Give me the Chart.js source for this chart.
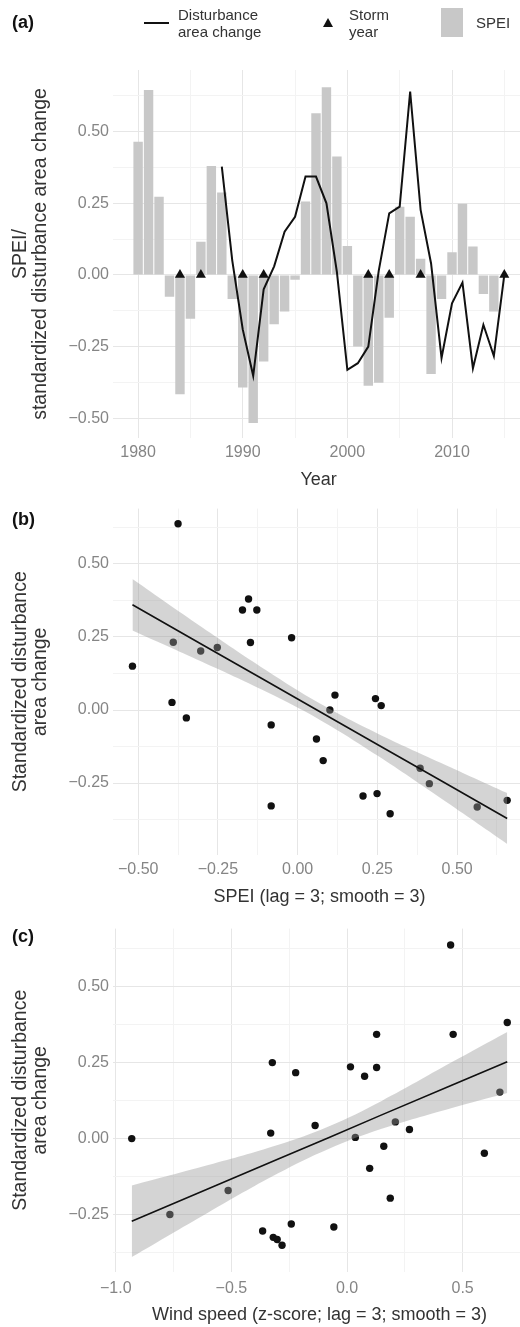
<!DOCTYPE html>
<html>
<head>
<meta charset="utf-8">
<script src="https://cdn.jsdelivr.net/npm/chart.js@4.4.0/dist/chart.umd.min.js"></script>
<style>
html, body { margin: 0; padding: 0; background: #fff; overflow: hidden; width: 520px; height: 1327px; }
.panel { position: absolute; left: 0; }
.lab { position: absolute; font: bold 18px "Liberation Sans", Arial, sans-serif; color: #111; }
.leg { position: absolute; font: 15px "Liberation Sans", Arial, sans-serif; color: #333; line-height: 17px; }
</style>
</head>
<body>
<canvas id="chartA" class="panel" width="530" height="495" style="top:0px"></canvas>
<canvas id="chartB" class="panel" width="530" height="420" style="top:495px"></canvas>
<canvas id="chartC" class="panel" width="530" height="412" style="top:915px"></canvas>

<div class="lab" style="left:12px;top:12px">(a)</div>
<div class="lab" style="left:12px;top:509px">(b)</div>
<div class="lab" style="left:12px;top:926px">(c)</div>

<div style="position:absolute;left:144px;top:22px;width:25px;height:2px;background:#111"></div>
<div class="leg" style="left:178px;top:6px">Disturbance<br>area change</div>
<div style="position:absolute;left:323px;top:18px;width:0;height:0;border-left:5px solid transparent;border-right:5px solid transparent;border-bottom:9px solid #111"></div>
<div class="leg" style="left:349px;top:6px">Storm<br>year</div>
<div style="position:absolute;left:441px;top:8px;width:22px;height:29px;background:#c8c8c8"></div>
<div class="leg" style="left:476px;top:14px">SPEI</div>

<script>
// panel (a) data
const speiYears = [1980, 1981, 1982, 1983, 1984, 1985, 1986, 1987, 1988, 1989,
    1990, 1991, 1992, 1993, 1994, 1995, 1996, 1997, 1998, 1999,
    2000, 2001, 2002, 2003, 2004, 2005, 2006, 2007, 2008, 2009,
    2010, 2011, 2012, 2013, 2014]
const spei = [0.465, 0.645, 0.273, -0.076, -0.416, -0.153, 0.116, 0.38, 0.288, -0.084,
    -0.393, -0.517, -0.302, -0.172, -0.128, -0.017, 0.256, 0.564, 0.655, 0.413,
    0.101, -0.25, -0.387, -0.376, -0.149, 0.238, 0.203, 0.056, -0.346, -0.084,
    0.079, 0.248, 0.099, -0.067, -0.128]
const distYears = [1988, 1989, 1990, 1991, 1992, 1993, 1994, 1995, 1996, 1997,
    1998, 1999, 2000, 2001, 2002, 2003, 2004, 2005, 2006, 2007,
    2008, 2009, 2010, 2011, 2012, 2013, 2014, 2015]
const distChange = [0.378, 0.05, -0.19, -0.352, -0.05, 0.03, 0.151, 0.203, 0.343, 0.343,
    0.25, 0.01, -0.331, -0.308, -0.25, 0.015, 0.215, 0.238, 0.64, 0.227,
    0.04, -0.29, -0.099, -0.027, -0.326, -0.174, -0.283, 0.0]
const stormYears = [1984, 1986, 1990, 1992, 2002, 2004, 2007, 2015]

// panel (b) data
const speiLag = [-0.375, -0.518, -0.39, -0.304, -0.252, -0.173, -0.154, -0.128, -0.148, -0.019,
    -0.394, -0.349, -0.083, 0.059, 0.117, 0.101, 0.244, 0.262, 0.08, -0.083,
    0.205, 0.249, 0.29, 0.384, 0.413, 0.563, 0.657]
const distB = [0.637, 0.15, 0.232, 0.202, 0.214, 0.342, 0.38, 0.342, 0.231, 0.247,
    0.026, -0.027, -0.051, -0.099, 0.051, 0.0, 0.039, 0.015, -0.173, -0.328,
    -0.294, -0.286, -0.355, -0.199, -0.252, -0.332, -0.309]
// fitted line and 95% band
const fitXB = [-0.518, -0.3, -0.1, 0.07, 0.25, 0.45, 0.657]
const fitB = [0.36, 0.224, 0.1, -0.006, -0.118, -0.242, -0.371]
const upperB = [0.448, 0.283, 0.137, 0.022, -0.08, -0.181, -0.284]
const lowerB = [0.272, 0.165, 0.063, -0.034, -0.156, -0.303, -0.458]

// panel (c) data
const windLag = [0.448, 0.693, 0.128, 0.459, -0.323, -0.222, 0.015, 0.128, 0.076, 0.661,
    -0.931, -0.33, -0.138, 0.036, 0.209, 0.27, 0.159, 0.594, 0.098, 0.187,
    -0.514, -0.766, -0.241, -0.057, -0.365, -0.319, -0.302, -0.281]
const distC = [0.636, 0.381, 0.342, 0.342, 0.249, 0.216, 0.235, 0.233, 0.204, 0.152,
    -0.001, 0.017, 0.042, 0.003, 0.054, 0.029, -0.026, -0.049, -0.099, -0.197,
    -0.172, -0.251, -0.282, -0.292, -0.305, -0.326, -0.333, -0.352]
const fitXC = [-0.931, -0.6, -0.3, -0.08, 0.15, 0.45, 0.693]
const fitC = [-0.273, -0.166, -0.069, 0.002, 0.077, 0.174, 0.252]
const upperC = [-0.155, -0.088, -0.022, 0.039, 0.123, 0.249, 0.35]
const lowerC = [-0.391, -0.244, -0.116, -0.035, 0.031, 0.099, 0.149]

Chart.defaults.font.family = '"Liberation Sans", Arial, sans-serif'
Chart.defaults.animation = false

const majorGrid = '#e6e6e6'
const minorGrid = '#f3f3f3'
const tickColor = '#858585'
const titleColor = '#333'

const isMajor = (v, step) => Math.abs(v / step - Math.round(v / step)) < 1e-6
const fmt = (v, d) => (v < 0 ? '\u2212' : '') + Math.abs(v).toFixed(d)

const pts = (xs, ys) => xs.map((x, i) => ({x: x, y: ys[i]}))

function yAxis(min, max, titleText) {
    return {
        type: 'linear', min: min, max: max,
        afterFit: (scale) => { scale.width = 113 },
        grid: {
            drawTicks: false,
            color: (c) => isMajor(c.tick.value, 0.25) ? majorGrid : minorGrid,
            lineWidth: 1
        },
        border: {display: false},
        ticks: {
            stepSize: 0.125, autoSkip: false, includeBounds: false, padding: 4,
            color: tickColor, font: {size: 16},
            callback: (v) => isMajor(v, 0.25) ? fmt(v, 2) : ''
        },
        title: {
            display: true, text: titleText, color: titleColor,
            font: {size: 19.5, lineHeight: 1.05}, padding: {top: 10, bottom: 0}
        }
    }
}

function xAxis(min, max, step, labelStep, dec, titleText, h, tickPad, titlePad) {
    return {
        type: 'linear', min: min, max: max, offset: false,
        afterFit: (scale) => { scale.height = h },
        grid: {
            offset: false, drawTicks: false,
            color: (c) => isMajor(c.tick.value, labelStep) ? majorGrid : minorGrid,
            lineWidth: 1
        },
        border: {display: false},
        ticks: {
            stepSize: step, autoSkip: false, includeBounds: false, padding: tickPad,
            maxRotation: 0, minRotation: 0,
            color: tickColor, font: {size: 16},
            callback: (v) => isMajor(v, labelStep) ? fmt(v, dec) : ''
        },
        title: {
            display: true, text: titleText, color: titleColor,
            font: {size: 18}, padding: {top: 0, bottom: titlePad}
        }
    }
}

const baseOptions = (padTop, scales) => ({
    responsive: false,
    animation: false,
    layout: {padding: {top: padTop, left: 0, right: 0, bottom: 0}},
    plugins: {legend: {display: false}, tooltip: {enabled: false}},
    scales: scales
})

// (a) SPEI bars, disturbance line, storm years
new Chart(document.getElementById('chartA'), {
    type: 'bar',
    data: {
        datasets: [{
            type: 'scatter',
            data: stormYears.map(y => ({x: y, y: 0})),
            pointStyle: 'triangle',
            pointRadius: 5.8,
            backgroundColor: '#111',
            borderWidth: 0,
            order: 0
        }, {
            type: 'line',
            data: pts(distYears, distChange),
            borderColor: '#111',
            borderWidth: 2,
            pointRadius: 0,
            tension: 0,
            order: 1
        }, {
            type: 'bar',
            data: pts(speiYears, spei),
            backgroundColor: '#c8c8c8',
            barPercentage: 0.9,
            categoryPercentage: 1,
            order: 2
        }]
    },
    options: baseOptions(70, {
        x: xAxis(1977.6, 2016.9, 5, 10, 0, 'Year', 57, 5, 4),
        y: yAxis(-0.569, 0.715, ['SPEI/', 'standardized disturbance area change'])
    })
})

function scatterPanel(id, xs, ys, fx, fy, up, lo, padTop, xScale, yScale) {
    new Chart(document.getElementById(id), {
        type: 'scatter',
        data: {
            datasets: [{
                type: 'line',
                data: pts(fx, fy),
                borderColor: '#111',
                borderWidth: 1.6,
                pointRadius: 0,
                order: 0
            }, {
                type: 'line',
                data: pts(fx, lo),
                borderWidth: 0,
                pointRadius: 0,
                tension: 0.4,
                fill: false,
                order: 1
            }, {
                type: 'line',
                data: pts(fx, up),
                borderWidth: 0,
                pointRadius: 0,
                tension: 0.4,
                fill: '-1',
                backgroundColor: 'rgba(153,153,153,0.42)',
                order: 1
            }, {
                data: pts(xs, ys),
                pointRadius: 3.7,
                backgroundColor: '#111',
                borderWidth: 0,
                order: 3
            }]
        },
        options: baseOptions(padTop, {x: xScale, y: yScale})
    })
}

const yTitle = ['Standardized disturbance', 'area change']

scatterPanel('chartB', speiLag, distB, fitXB, fitB, upperB, lowerB, 12,
    xAxis(-0.579, 0.716, 0.125, 0.25, 2, 'SPEI (lag = 3; smooth = 3)', 60, 5, 7),
    yAxis(-0.496, 0.689, yTitle))

scatterPanel('chartC', windLag, distC, fitXC, fitC, upperC, lowerC, 10,
    xAxis(-1.012, 0.774, 0.25, 0.5, 1, 'Wind speed (z-score; lag = 3; smooth = 3)', 55, 7, 1),
    yAxis(-0.44, 0.69, yTitle))
</script>
</body>
</html>
